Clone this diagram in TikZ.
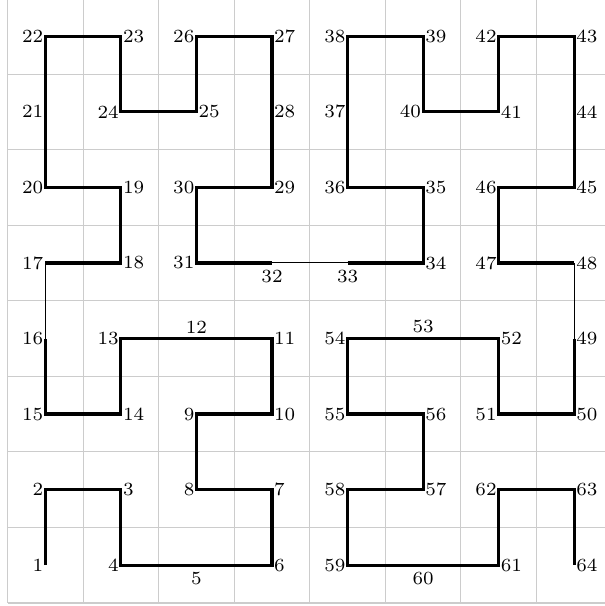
\documentclass[tikz,border=0pt]{standalone}
\begin{document}
\begin{tikzpicture}[x=1cm,y=1cm,
  gridline/.style={draw=gray!40, line width=0.4pt},
  curve/.style={line width=1.2pt, line join=miter, line cap=butt},
  joiner/.style={line width=0.4pt},
  labbase/.style={font=\fontsize{7}{8}\selectfont},
  labl/.style={labbase, anchor=east, inner sep=0.6pt},
  labr/.style={labbase, anchor=west, inner sep=0.6pt},
  labb/.style={labbase, anchor=north, inner sep=2.4pt},
  laba/.style={labbase, anchor=south, inner sep=1.8pt}]
\useasboundingbox (-0.1,-0.04) rectangle (7.9,7.98);
\draw[gridline] (0,0) grid (8,8);
\foreach \n/\x/\y/\p in {
 1/0/0/l, 2/0/1/l, 3/1/1/r, 4/1/0/l, 5/2/0/b, 6/3/0/r, 7/3/1/r, 8/2/1/l,
 9/2/2/l, 10/3/2/r, 11/3/3/r, 12/2/3/a, 13/1/3/l, 14/1/2/r, 15/0/2/l, 16/0/3/l,
 17/0/4/l, 18/1/4/r, 19/1/5/r, 20/0/5/l, 21/0/6/l, 22/0/7/l, 23/1/7/r, 24/1/6/l,
 25/2/6/r, 26/2/7/l, 27/3/7/r, 28/3/6/r, 29/3/5/r, 30/2/5/l, 31/2/4/l, 32/3/4/b,
 33/4/4/b, 34/5/4/r, 35/5/5/r, 36/4/5/l, 37/4/6/l, 38/4/7/l, 39/5/7/r, 40/5/6/l,
 41/6/6/r, 42/6/7/l, 43/7/7/r, 44/7/6/r, 45/7/5/r, 46/6/5/l, 47/6/4/l, 48/7/4/r,
 49/7/3/r, 50/7/2/r, 51/6/2/l, 52/6/3/r, 53/5/3/a, 54/4/3/l, 55/4/2/l, 56/5/2/r,
 57/5/1/r, 58/4/1/l, 59/4/0/l, 60/5/0/b, 61/6/0/r, 62/6/1/l, 63/7/1/r, 64/7/0/r}
{
  \coordinate (p\n) at (\x+0.5,\y+0.5);
  \node[lab\p] (t\n) at (p\n) {\n};
}
\draw[curve] (p1) -- (p2) -- (p3) -- (p4) -- (p5) -- (p6) -- (p7) -- (p8) -- (p9) -- (p10) -- (p11) -- (p12) -- (p13) -- (p14) -- (p15) -- (p16);
\draw[curve] (p17) -- (p18) -- (p19) -- (p20) -- (p21) -- (p22) -- (p23) -- (p24) -- (p25) -- (p26) -- (p27) -- (p28) -- (p29) -- (p30) -- (p31) -- (p32);
\draw[curve] (p33) -- (p34) -- (p35) -- (p36) -- (p37) -- (p38) -- (p39) -- (p40) -- (p41) -- (p42) -- (p43) -- (p44) -- (p45) -- (p46) -- (p47) -- (p48);
\draw[curve] (p49) -- (p50) -- (p51) -- (p52) -- (p53) -- (p54) -- (p55) -- (p56) -- (p57) -- (p58) -- (p59) -- (p60) -- (p61) -- (p62) -- (p63) -- (p64);
\draw[joiner] (p16) -- (p17);
\draw[joiner] (p32) -- (p33);
\draw[joiner] (p48) -- (p49);
\end{tikzpicture}
\end{document}
